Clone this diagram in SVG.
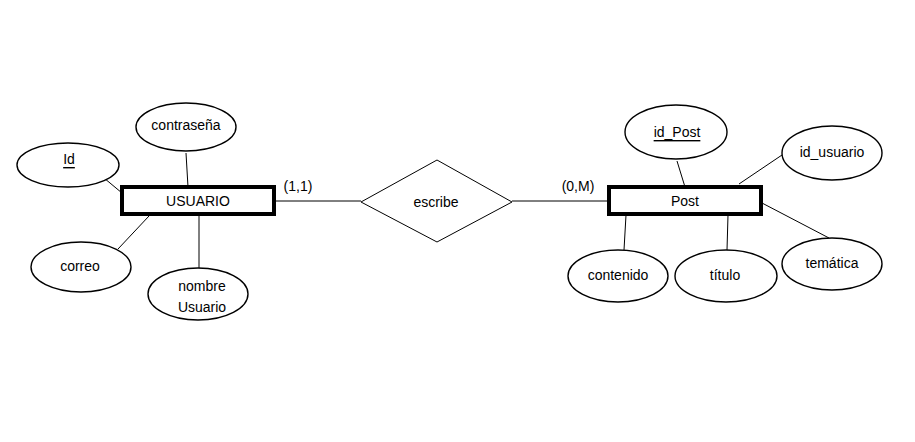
<svg xmlns="http://www.w3.org/2000/svg" width="915" height="442" viewBox="0 0 915 442">
<style>
text{font-family:"Liberation Sans",Arial,sans-serif;font-size:14px;fill:#000;text-anchor:middle;dominant-baseline:central}
.attr{fill:#fff;stroke:#000;stroke-width:1.4}
.ent{fill:#fff;stroke:#000;stroke-width:4}
.rel{fill:#fff;stroke:#000;stroke-width:1}
.c line{stroke:#000;stroke-width:1}
.u{text-decoration:underline}
</style>
<rect width="915" height="442" fill="#fff"/>
<g class="c" id="connectors">
<line x1="104" y1="178" x2="122" y2="193"/>
<line x1="186" y1="153" x2="188" y2="187"/>
<line x1="149" y1="216" x2="118" y2="249"/>
<line x1="199" y1="216" x2="199" y2="268"/>
<line x1="275" y1="201" x2="361" y2="201"/>
<line x1="512" y1="201" x2="609" y2="201"/>
<line x1="677" y1="161" x2="685" y2="187"/>
<line x1="782" y1="155" x2="739" y2="184"/>
<line x1="626" y1="215" x2="624" y2="250"/>
<line x1="728" y1="215" x2="727" y2="250"/>
<line x1="762" y1="203" x2="829" y2="238"/>
<text x="298" y="186">(1,1)</text>
<text x="578" y="186">(0,M)</text>
</g>
<g id="usuario"><rect class="ent" x="122" y="187" width="152" height="27"/><text x="198" y="201">USUARIO</text></g>
<g id="attr-id"><ellipse class="attr" cx="68" cy="165" rx="51" ry="22"/><text class="u" x="69" y="159">Id</text></g>
<g id="attr-contrasena"><ellipse class="attr" cx="186" cy="127" rx="50" ry="24"/><text x="186" y="125">contraseña</text></g>
<g id="attr-correo"><ellipse class="attr" cx="81" cy="267" rx="50" ry="25"/><text x="80" y="266">correo</text></g>
<g id="attr-nombre"><ellipse class="attr" cx="198" cy="294" rx="50" ry="26"/><text x="202" y="286">nombre</text><text x="202" y="307">Usuario</text></g>
<g id="escribe"><polygon class="rel" points="361,202 437,160 512,202 437,242"/><text x="436" y="202">escribe</text></g>
<g id="post"><rect class="ent" x="609" y="187" width="152" height="27"/><text x="685" y="201">Post</text></g>
<g id="attr-idpost"><ellipse class="attr" cx="676" cy="132" rx="51" ry="27"/><text class="u" x="677" y="132">id_Post</text></g>
<g id="attr-idusuario"><ellipse class="attr" cx="832" cy="153" rx="50" ry="27"/><text x="832" y="152">id_usuario</text></g>
<g id="attr-contenido"><ellipse class="attr" cx="618" cy="276" rx="50" ry="26"/><text x="618" y="275">contenido</text></g>
<g id="attr-titulo"><ellipse class="attr" cx="726" cy="276" rx="51" ry="26"/><text x="725" y="275">título</text></g>
<g id="attr-tematica"><ellipse class="attr" cx="832" cy="264" rx="50" ry="26"/><text x="832" y="263">temática</text></g>
</svg>
